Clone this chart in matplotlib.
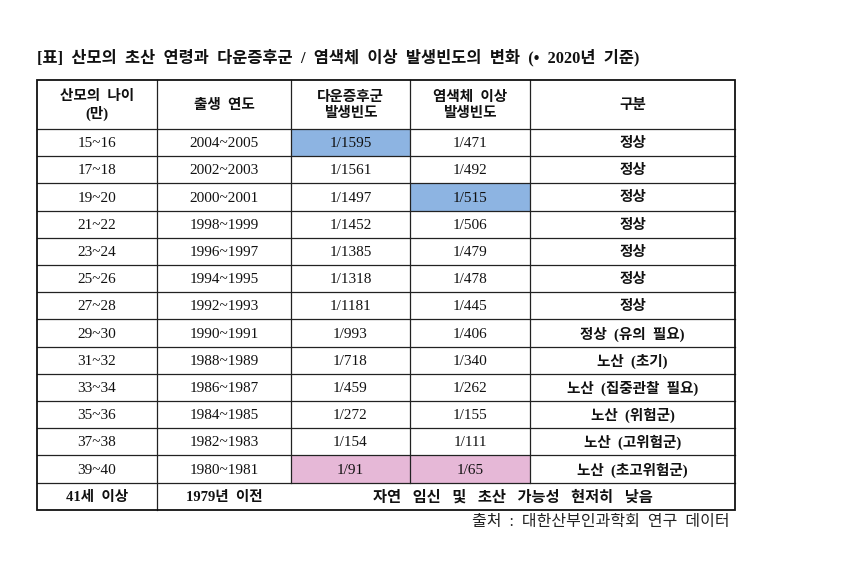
import matplotlib
matplotlib.use("Agg")
import matplotlib.pyplot as plt
from matplotlib.patches import Rectangle

# table content
title = "[표] 산모의 초산 연령과 다운증후군 / 염색체 이상 발생빈도의 변화 (• 2020년 기준)"
headers = ["산모의 나이\n(만)", "출생 연도", "다운증후군\n발생빈도", "염색체 이상\n발생빈도", "구분"]
ages = ["15~16", "17~18", "19~20", "21~22", "23~24", "25~26", "27~28",
        "29~30", "31~32", "33~34", "35~36", "37~38", "39~40"]
birth_years = ["2004~2005", "2002~2003", "2000~2001", "1998~1999", "1996~1997",
               "1994~1995", "1992~1993", "1990~1991", "1988~1989", "1986~1987",
               "1984~1985", "1982~1983", "1980~1981"]
down_freq = [1595, 1561, 1497, 1452, 1385, 1318, 1181, 993, 718, 459, 272, 154, 91]
chrom_freq = [471, 492, 515, 506, 479, 478, 445, 406, 340, 262, 155, 111, 65]
category = ["정상", "정상", "정상", "정상", "정상", "정상", "정상",
            "정상 (유의 필요)", "노산 (초기)", "노산 (집중관찰 필요)",
            "노산 (위험군)", "노산 (고위험군)", "노산 (초고위험군)"]
last_row = ["41세 이상", "1979년 이전", "자연 임신 및 초산 가능성 현저히 낮음"]
source = "출처 : 대한산부인과학회 연구 데이터"

# highlighted cells: (row, col) -> colour
highlights = {(0, 2): "#8DB4E2", (2, 3): "#8DB4E2",
              (12, 2): "#E6B8D7", (12, 3): "#E6B8D7"}

# layout (pixels)
col_edges = [37, 157, 291, 410, 530, 735]
top, head_h, row_h = 80, 49, 27.2
fam = ["Liberation Serif", "Noto Sans CJK KR"]

def wide(s, n=2):
    # the original font has much wider word spacing
    return s.replace(" ", " " * n)

fig = plt.figure(figsize=(8.48, 5.75), dpi=100)
ax = fig.add_axes([0, 0, 1, 1])
ax.set_xlim(0, 848)
ax.set_ylim(575, 0)
ax.axis("off")

def cell(x0, x1, y0, y1, txt, bold=True, color=None, size=10.5, gap=2):
    if color:
        ax.add_patch(Rectangle((x0, y0), x1 - x0, y1 - y0, facecolor=color,
                               edgecolor="none", zorder=1))
    ax.text((x0 + x1) / 2, (y0 + y1) / 2 + 1, wide(txt, gap), ha="center", va="center",
            fontsize=size, family=fam, fontweight="bold" if bold else "normal",
            linespacing=1.3, zorder=3, color="#111111")

# header
for j, h in enumerate(headers):
    cell(col_edges[j], col_edges[j + 1], top, top + head_h, h, size=10.5)

# data rows
y = top + head_h
rows = list(zip(ages, birth_years, ["1/%d" % v for v in down_freq],
                ["1/%d" % v for v in chrom_freq], category))
for i, r in enumerate(rows):
    for j, t in enumerate(r):
        cell(col_edges[j], col_edges[j + 1], y + i * row_h, y + (i + 1) * row_h,
             t, bold=(j == 4), color=highlights.get((i, j)),
             size=10.5 if j == 4 else 11)
y_last = y + len(rows) * row_h
y_end = y_last + 27
cell(col_edges[0], col_edges[1], y_last, y_end, last_row[0], size=10.5)
cell(col_edges[1], col_edges[2], y_last, y_end, last_row[1], size=10.5)
cell(col_edges[2], col_edges[5], y_last, y_end, last_row[2], size=11, gap=3)

# grid lines
lc = "#222222"
row_lines = [top + head_h + i * row_h for i in range(len(rows) + 1)]
for yy in row_lines:
    ax.plot([col_edges[0], col_edges[-1]], [yy, yy], color=lc, lw=0.9, zorder=4)
for j, xx in enumerate(col_edges[1:-1]):
    y_stop = y_end if j == 0 else y_last
    ax.plot([xx, xx], [top, y_stop], color=lc, lw=0.9, zorder=4)
ax.add_patch(Rectangle((col_edges[0], top), col_edges[-1] - col_edges[0], y_end - top,
                       facecolor="none", edgecolor="#111111", lw=1.3, zorder=5))

ax.text(col_edges[0], 58, wide(title), ha="left", va="center", fontsize=11.8,
        family=fam, fontweight="bold", color="#111111")
ax.text(730, 522, wide(source), ha="right", va="center", fontsize=11.5,
        family=fam, color="#222222")

fig.savefig("out.png", dpi=100)
